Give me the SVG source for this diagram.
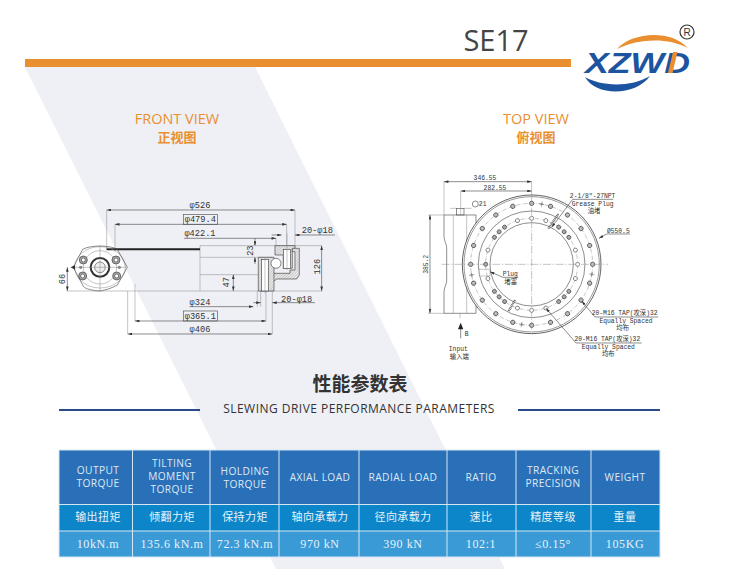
<svg xmlns="http://www.w3.org/2000/svg" xmlns:xlink="http://www.w3.org/1999/xlink" width="747" height="569" viewBox="0 0 747 569">
<style>
.l{fill:none;stroke:#555;stroke-width:2}
.t{fill:none;stroke:#888;stroke-width:1.5}
.dt{font-family:"Liberation Mono",monospace;font-size:26px;fill:#333;text-anchor:middle}
.dc{font-family:"Liberation Mono","Noto Sans CJK SC",monospace;font-size:19px;fill:#333;text-anchor:middle}
.hd{font-family:"Open Sans",sans-serif;font-size:10.2px;fill:#dfe9f5;text-anchor:middle;letter-spacing:.4px}
.cn{font-family:"Noto Sans CJK SC",sans-serif;font-size:11px;fill:#e6f2fa;text-anchor:middle;letter-spacing:.4px}
.vl{font-family:"Liberation Serif",serif;font-size:12px;fill:#e6f2fa;text-anchor:middle;letter-spacing:.6px}
.vw{font-family:"Open Sans",sans-serif;font-size:14.5px;fill:#ea8f2f;text-anchor:middle}
.vc{font-family:"Noto Sans CJK SC",sans-serif;font-size:13px;font-weight:700;fill:#ea8f2f;text-anchor:middle}
.cell{stroke:#d5e6f3;stroke-width:1;fill:none}
</style>
<defs>
<marker id="a" viewBox="0 0 10 6" refX="10" refY="3" markerWidth="14" markerHeight="8" orient="auto-start-reverse" markerUnits="userSpaceOnUse"><path d="M0 0L10 3L0 6Z" fill="#333"/></marker>
<pattern id="hx" width="6" height="6" patternUnits="userSpaceOnUse" patternTransform="rotate(45)"><rect width="6" height="6" fill="#eee"/><path d="M0 0V6" stroke="#777" stroke-width="2"/></pattern>
<g id="ho"><circle cx="395" cy="100" r="6.500" fill="#bbb" stroke="#444" stroke-width="2.200"/></g>
<g id="hi"><circle cx="395" cy="145" r="6" fill="#fff" stroke="#555" stroke-width="2"/></g>
<g id="hd"><circle cx="395" cy="145" r="6" fill="#aaa" stroke="#444" stroke-width="2.200"/></g>
<g id="tk"><path d="M395 92V108M387 100H403" stroke="#666" stroke-width="1.500"/><circle cx="395" cy="100" r="3.500" fill="#888"/></g>
<g id="bolt"><circle r="12" fill="#aaa" stroke="#444" stroke-width="2.200"/><circle r="6" fill="#fff" stroke="#444" stroke-width="2"/></g>
</defs>
<polygon id="band" points="25,67 255,67 505,569 276,569" fill="#eef0f6"/>
<rect id="bar" x="25" y="59" width="546" height="8" fill="#ea8f2f"/>
<text id="title" x="496" y="51" font-family="Open Sans,sans-serif" font-size="29" fill="#444" text-anchor="middle">SE17</text>
<g id="logo">
<path d="M617 49C630 33 670 28 688 48C668 38 640 38 617 49Z" fill="#ea8f2f"/>
<path d="M585 77C600 86 630 88 650 76C635 97 595 96 585 77Z" fill="#1d54a0"/>
<text x="585" y="73" font-family="Liberation Sans,sans-serif" font-weight="700" font-style="italic" font-size="30" fill="#1d54a0" textLength="105" lengthAdjust="spacingAndGlyphs">XZWD</text>
<polygon points="668,73 672.500,73 677.500,52 673,52" fill="#ea8f2f"/>
<circle cx="687" cy="32" r="7" fill="#fff" stroke="#333" stroke-width="1.200"/>
<text x="687" y="36" font-family="Liberation Sans,sans-serif" font-size="10" fill="#333" text-anchor="middle">R</text>
</g>
<g id="front-heading"><text class="vw" x="177" y="124">FRONT VIEW</text><text class="vc" x="177" y="142">正视图</text></g>
<g id="top-heading"><text class="vw" x="536" y="124">TOP VIEW</text><text class="vc" x="536" y="142">俯视图</text></g>

<g id="front-view" transform="translate(40 180) scale(.3333)">
<path class="t" d="M200 90V210M765 90V208M225 133V215M740 133V215M708 175V205M480 197V333M285 313V423M263 333V462M678 240V423M697 300V462M652 333V380M662 333V380"/>
<path class="l" d="M200 90H765" marker-start="url(#a)" marker-end="url(#a)"/>
<path class="l" d="M225 133H740" marker-start="url(#a)" marker-end="url(#a)"/>
<path class="l" d="M432 175H708" marker-end="url(#a)"/>
<path class="l" d="M285 423H678" marker-start="url(#a)" marker-end="url(#a)"/>
<path class="l" d="M263 462H697" marker-start="url(#a)" marker-end="url(#a)"/>
<path class="l" d="M448 380H640" marker-end="url(#a)"/>
<path class="l" d="M885 165H765" marker-end="url(#a)"/><path class="l" d="M695 165H725" marker-end="url(#a)"/>
<path class="l" d="M825 368H697" marker-end="url(#a)"/><path class="l" d="M640 368H662" marker-end="url(#a)"/>
<path class="l" d="M845 197V333" marker-start="url(#a)" marker-end="url(#a)"/>
<path class="l" d="M645 175V197" marker-end="url(#a)"/><path class="l" d="M645 252V232" marker-end="url(#a)"/>
<path class="l" d="M580 284V333" marker-start="url(#a)" marker-end="url(#a)"/>
<path class="l" d="M82 262V333" marker-start="url(#a)" marker-end="url(#a)"/>
<path d="M200 208H480" stroke="#222" stroke-width="6" fill="none"/>
<path class="t" d="M480 197H845M480 232H700M480 284H710M80 333H848"/>
<path d="M705 197H765V208H757V265H730V225H705Z" fill="url(#hx)" stroke="#444" stroke-width="2"/>
<path d="M757 205H778V285L770 297H710L700 305V280H750V270H765V215H757Z" fill="url(#hx)" stroke="#444" stroke-width="2"/>
<path d="M655 232H702V333H655Z" fill="url(#hx)" stroke="#444" stroke-width="2"/>
<rect x="730" y="208" width="22" height="58" fill="#fff" stroke="#444" stroke-width="2"/>
<rect x="665" y="238" width="20" height="95" fill="#fff" stroke="#444" stroke-width="2"/>
<path class="t" d="M741 160V270M675 235V340"/>
<circle cx="708" cy="250" r="15" fill="#fff" stroke="#444" stroke-width="2"/>
<ellipse cx="180" cy="262" rx="76" ry="62" class="t"/>
<path class="l" d="M128 208C150 195 210 195 232 208L262 262L232 315C215 325 190 333 175 333C150 330 130 325 128 315L100 262Z"/>
<circle cx="180" cy="262" r="50" class="t"/>
<circle cx="180" cy="262" r="28" fill="#fff" stroke="#333" stroke-width="6"/>
<circle cx="180" cy="262" r="16" fill="#eee" stroke="#555" stroke-width="2"/>
<path class="t" d="M180 195V335M100 262H258"/>
<use xlink:href="#bolt" href="#bolt" x="130" y="240"/><use xlink:href="#bolt" href="#bolt" x="228" y="240"/><use xlink:href="#bolt" href="#bolt" x="128" y="288"/><use xlink:href="#bolt" href="#bolt" x="230" y="288"/>
<circle cx="122" cy="262" r="5" fill="#888"/><circle cx="238" cy="262" r="5" fill="#888"/><path d="M92 262L105 255V269Z" fill="#333"/>
<text class="dt" x="480" y="85">φ526</text>
<rect x="430" y="103" width="103" height="30" fill="none" stroke="#555" stroke-width="2"/><text class="dt" x="481" y="127">φ479.4</text>
<text class="dt" x="480" y="168">φ422.1</text>
<text class="dt" x="832" y="158">20-φ18</text>
<text class="dt" x="480" y="375">φ324</text>
<text class="dt" x="770" y="365">20-φ18</text>
<rect x="430" y="393" width="103" height="30" fill="none" stroke="#555" stroke-width="2"/><text class="dt" x="481" y="416">φ365.1</text>
<text class="dt" x="480" y="455">φ406</text>
<text class="dt" transform="translate(840 260) rotate(-90)">126</text>
<text class="dt" transform="translate(638 212) rotate(-90)">23</text>
<text class="dt" transform="translate(568 307) rotate(-90)">47</text>
<text class="dt" transform="translate(76 297) rotate(-90)">66</text>
</g>

<g id="top-view" transform="translate(400 170) scale(.3333)">
<path class="l" d="M132 135H228V430H132V370C132 350 140 345 140 330V235C140 220 132 215 132 195Z"/>
<rect x="170" y="115" width="22" height="20" class="l"/>
<path class="t" d="M182 63V135M132 35V135M395 35V100M85 135H132M85 430H132M150 115H170M192 115H215M160 135V430M200 135V430M180 430V445"/>
<circle cx="395" cy="283" r="208" fill="#fff" stroke="#444" stroke-width="2.500"/>
<circle cx="395" cy="283" r="203" fill="none" stroke="#666" stroke-width="2"/>
<circle cx="395" cy="283" r="183" class="t" stroke-dasharray="12 4 2 4"/>
<circle cx="395" cy="283" r="160" class="l"/>
<circle cx="395" cy="283" r="138" class="t" stroke-dasharray="12 4 2 4"/>
<circle cx="395" cy="283" r="125" class="l"/>
<path class="t" d="M125 283H625M395 75V480" stroke-dasharray="24 5 4 5"/>
<g id="outer-holes">
<use href="#ho"/><use href="#ho" transform="rotate(18 395 283)"/><use href="#ho" transform="rotate(36 395 283)"/><use href="#ho" transform="rotate(54 395 283)"/><use href="#ho" transform="rotate(72 395 283)"/><use href="#ho" transform="rotate(90 395 283)"/><use href="#ho" transform="rotate(108 395 283)"/><use href="#ho" transform="rotate(126 395 283)"/><use href="#ho" transform="rotate(144 395 283)"/><use href="#ho" transform="rotate(162 395 283)"/><use href="#ho" transform="rotate(180 395 283)"/><use href="#ho" transform="rotate(198 395 283)"/><use href="#ho" transform="rotate(216 395 283)"/><use href="#ho" transform="rotate(234 395 283)"/><use href="#ho" transform="rotate(252 395 283)"/><use href="#ho" transform="rotate(270 395 283)"/><use href="#ho" transform="rotate(288 395 283)"/><use href="#ho" transform="rotate(306 395 283)"/><use href="#ho" transform="rotate(324 395 283)"/><use href="#ho" transform="rotate(342 395 283)"/>
</g>
<g id="inner-holes">
<use href="#hi"/><use href="#hi" transform="rotate(18 395 283)"/><use href="#hd" transform="rotate(36 395 283)"/><use href="#hd" transform="rotate(54 395 283)"/><use href="#hi" transform="rotate(72 395 283)"/><use href="#hi" transform="rotate(90 395 283)"/><use href="#hi" transform="rotate(108 395 283)"/><use href="#hd" transform="rotate(126 395 283)"/><use href="#hd" transform="rotate(144 395 283)"/><use href="#hi" transform="rotate(162 395 283)"/><use href="#hi" transform="rotate(180 395 283)"/><use href="#hi" transform="rotate(198 395 283)"/><use href="#hd" transform="rotate(216 395 283)"/><use href="#hd" transform="rotate(234 395 283)"/><use href="#hi" transform="rotate(252 395 283)"/><use href="#hd" transform="rotate(270 395 283)"/><use href="#hi" transform="rotate(288 395 283)"/><use href="#hd" transform="rotate(306 395 283)"/><use href="#hd" transform="rotate(324 395 283)"/><use href="#hi" transform="rotate(342 395 283)"/>
<use href="#hd" transform="rotate(45 395 283)"/><use href="#hd" transform="rotate(135 395 283)"/><use href="#hd" transform="rotate(225 395 283)"/><use href="#hd" transform="rotate(315 395 283)"/>
</g>
<g id="ticks">
<use href="#tk" transform="rotate(9.500 395 283)"/><use href="#tk" transform="rotate(99.500 395 283)"/><use href="#tk" transform="rotate(260 395 283)"/><use href="#tk" transform="rotate(189.500 395 283)"/>
</g>
<path d="M445 176L475 132" stroke="#666" stroke-width="7" stroke-dasharray="3 2" fill="none"/>
<path d="M345 390L325 425" stroke="#666" stroke-width="7" stroke-dasharray="3 2" fill="none"/>
<path class="t" d="M235 298H270V318H240"/>
<path class="l" d="M132 35H395" marker-start="url(#a)" marker-end="url(#a)"/>
<path class="l" d="M182 63H395" marker-start="url(#a)" marker-end="url(#a)"/>
<path class="l" d="M90 135V430" marker-start="url(#a)" marker-end="url(#a)"/>
<path class="l" d="M640 88H518L455 172" marker-end="url(#a)"/>
<path class="l" d="M690 192H620L597 205" marker-end="url(#a)"/>
<path class="l" d="M355 322H308L270 305" marker-end="url(#a)"/>
<path class="l" d="M775 441H585L545 393" marker-end="url(#a)"/>
<path class="l" d="M725 519H528L438 415" marker-end="url(#a)"/>
<path class="l" d="M182 505V470"/>
<path d="M174 478L182 458L190 478Z" fill="#222"/>
<circle cx="226" cy="102" r="9" fill="none" stroke="#555" stroke-width="2"/>
<text class="dc" x="255" y="30">346.55</text>
<text class="dc" x="285" y="59">282.55</text>
<text class="dc" x="248" y="109">21</text>
<text class="dc" transform="translate(85 283) rotate(-90)">385.2</text>
<text class="dc" x="578" y="85">2-1/8"-27NPT</text>
<text class="dc" x="578" y="107">Grease Plug</text>
<text class="dc" x="582" y="128">油堵</text>
<text class="dc" x="655" y="190">Ø550.5</text>
<text class="dc" x="331" y="317">Plug</text>
<text class="dc" x="332" y="342">堵塞</text>
<text class="dc" x="674" y="436">20-M16 TAP(攻深)32</text>
<text class="dc" x="678" y="458">Equally Spaced</text>
<text class="dc" x="668" y="480">均布</text>
<text class="dc" x="622" y="514">20-M16 TAP(攻深)32</text>
<text class="dc" x="625" y="536">Equally Spaced</text>
<text class="dc" x="625" y="558">均布</text>
<text class="dc" x="200" y="498">B</text>
<text class="dc" x="175" y="544">Input</text>
<text class="dc" x="178" y="568">输入端</text>
</g>

<g id="section-title">
<text x="360" y="391" font-family="Noto Sans CJK SC,sans-serif" font-size="19" font-weight="700" fill="#333" text-anchor="middle">性能参数表</text>
<text x="359" y="413" font-family="Open Sans,sans-serif" font-size="12" letter-spacing=".47" fill="#333" text-anchor="middle">SLEWING DRIVE PERFORMANCE PARAMETERS</text>
<rect x="59" y="409" width="141" height="2" fill="#2a4a8a"/><rect x="518" y="409" width="142" height="2" fill="#2a4a8a"/>
</g>

<g id="table">
<rect x="59" y="450" width="601" height="54" fill="#2a70b8"/>
<rect x="59" y="504" width="601" height="27" fill="#0d85c9"/>
<rect x="59" y="531" width="601" height="26" fill="#3a9ad6"/>
<path class="cell" d="M59 504.500H660M59 531H660M132.500 450V557M210 450V557M279 450V557M359 450V557M447 450V557M516 450V557M591 450V557M59 450H660M59 557H660M59 450V557M660 450V557"/>
<text class="hd"><tspan x="98" y="474">OUTPUT</tspan><tspan x="98" y="487">TORQUE</tspan></text>
<text class="hd"><tspan x="172" y="467">TILTING</tspan><tspan x="172" y="480">MOMENT</tspan><tspan x="172" y="493">TORQUE</tspan></text>
<text class="hd"><tspan x="245" y="475">HOLDING</tspan><tspan x="245" y="488">TORQUE</tspan></text>
<text class="hd" x="320" y="481">AXIAL LOAD</text>
<text class="hd" x="403" y="481">RADIAL LOAD</text>
<text class="hd" x="481" y="481">RATIO</text>
<text class="hd"><tspan x="553" y="474">TRACKING</tspan><tspan x="553" y="487">PRECISION</tspan></text>
<text class="hd" x="625" y="481">WEIGHT</text>
<text class="cn" x="98" y="521">输出扭矩</text><text class="cn" x="172" y="521">倾翻力矩</text><text class="cn" x="245" y="521">保持力矩</text><text class="cn" x="320" y="521">轴向承载力</text><text class="cn" x="403" y="521">径向承载力</text><text class="cn" x="481" y="521">速比</text><text class="cn" x="553" y="521">精度等级</text><text class="cn" x="625" y="521">重量</text>
<text class="vl" x="98" y="548">10kN.m</text><text class="vl" x="172" y="548">135.6 kN.m</text><text class="vl" x="245" y="548">72.3 kN.m</text><text class="vl" x="320" y="548">970 kN</text><text class="vl" x="403" y="548">390 kN</text><text class="vl" x="481" y="548">102:1</text><text class="vl" x="553" y="548">≤0.15°</text><text class="vl" x="625" y="548">105KG</text>
</g>
</svg>
